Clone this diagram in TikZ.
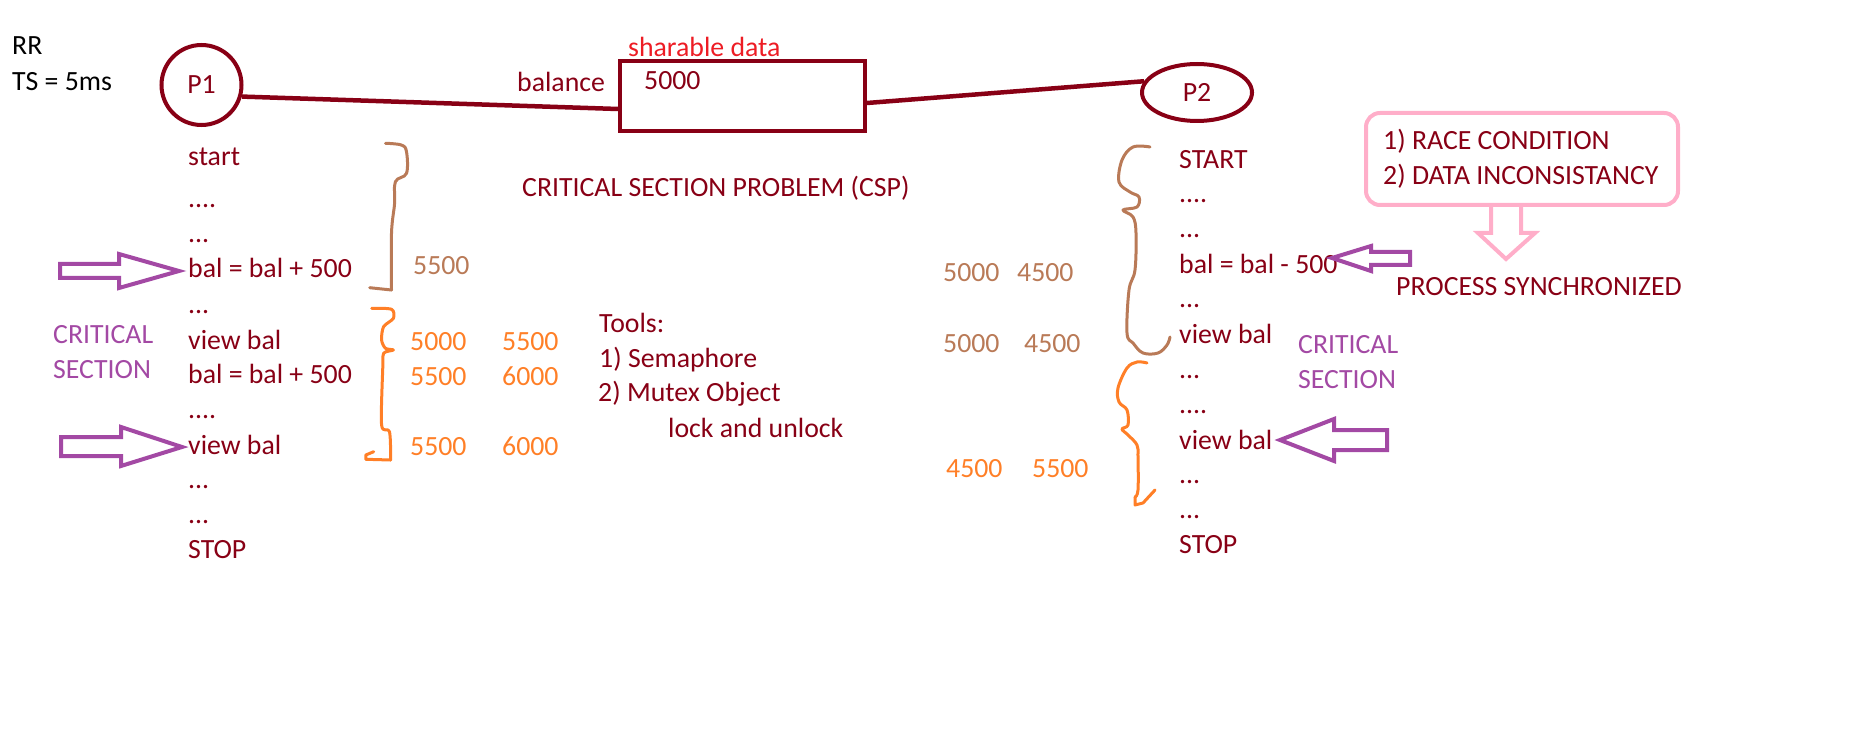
\documentclass[tikz,border=0pt]{standalone}
\usepackage{fontspec}
\setmainfont{Carlito}
\usetikzlibrary{shapes.geometric}

\definecolor{wine}{HTML}{880015}
\definecolor{clay}{HTML}{B97A57}
\definecolor{tangerine}{HTML}{FF7F27}
\definecolor{cspurple}{HTML}{A349A4}
\definecolor{blush}{HTML}{FFAEC9}
\definecolor{alarm}{HTML}{ED1C24}

\tikzset{
  codeline/.style={text=wine, anchor=base west, inner sep=0pt},
  brownnum/.style={codeline, text=clay},
  orangenum/.style={codeline, text=tangerine},
  procnode/.style={draw=wine, line width=4pt, inner sep=0pt, text=wine},
  link/.style={draw=wine, line width=4.5pt},
  fatarrow/.style={draw=cspurple, line width=4pt, line join=miter},
  brace/.style={line width=3pt, line cap=round, line join=round}
}

\begin{document}
\begin{tikzpicture}[x=1pt, y=-1pt, font=\fontsize{27.8}{33}\selectfont]
    \useasboundingbox (0,0) rectangle (1852,743);

    % scheduling
    \node[codeline, text=black] (rr) at (12,55) {RR};
    \node[codeline, text=black] (ts) at (12,91) {TS = 5ms};

    % processes and the shared variable
    \node[procnode, circle, minimum size=80pt] (P1) at (201.5,85) {P1};
    \node[procnode, ellipse, minimum width=110pt, minimum height=57pt] (P2) at (1197,92.5) {P2};
    \node[draw=wine, line width=4pt, minimum width=245pt, minimum height=70pt] (shared) at (742.5,96) {};
    \node[codeline, text=alarm] (sharelbl) at (628,57) {sharable data};
    \node[codeline] (balval) at (644,90) {5000};
    \node[codeline] (ballbl) at (517,92) {balance};

    \draw[link] (P1.-16) -- ([yshift=-13pt]shared.west);
    \draw[link] ([yshift=-7pt]shared.east) -- (P2.168);

    \node[codeline] (csp) at (522,197) {CRITICAL SECTION PROBLEM (CSP)};

    % process 1
    \node[codeline] (a1) at (188,166) {start};
    \node[codeline] (a2) at (188,208) {....};
    \node[codeline] (a3) at (188,243) {...};
    \node[codeline] (a4) at (188,278) {bal = bal + 500};
    \node[codeline] (a5) at (188,313) {...};
    \node[codeline] (a6) at (188,349) {view bal};
    \node[codeline] (a7) at (188,383) {bal = bal + 500};
    \node[codeline] (a8) at (188,418) {....};
    \node[codeline] (a9) at (188,454) {view bal};
    \node[codeline] (a10) at (188,488) {...};
    \node[codeline] (a11) at (188,523) {...};
    \node[codeline] (a12) at (188,558) {STOP};

    \node[codeline, text=cspurple] (crit1a) at (53,343) {CRITICAL};
    \node[codeline, text=cspurple] (crit1b) at (53,378) {SECTION};

    \draw[fatarrow] (60,264) -- (119,264) -- (119,254) -- (179,271) -- (119,288)
        -- (119,278) -- (60,278) -- cycle;
    \draw[fatarrow] (61,437) -- (121,437) -- (121,427) -- (182,447) -- (121,466)
        -- (121,456) -- (61,456) -- cycle;

    \draw[brace, clay] plot[smooth, tension=0.6] coordinates {(385.5,143.3) (401.3,145)
        (406.5,151.7) (406.5,173.3) (395.4,181.7) (394.6,203.3) (391.5,233.3) (391.5,290)};
    \draw[brace, clay] (391.5,290) -- (369.7,287.7);
    \draw[brace, tangerine] plot[smooth, tension=0.5] coordinates {(371.7,308.3) (391.5,309.3)
        (393.4,318.3) (383.6,326.7) (381.6,340) (385.5,348.3) (393.4,350) (383.6,353.3)
        (382.8,366.7) (381.6,425) (389.5,431.7) (390.7,460)};
    \draw[brace, tangerine] (390.7,460) -- (365.8,459.3) -- (365.8,455) -- (373.7,451.7);

    \node[brownnum] (n1) at (413,275) {5500};
    \node[orangenum] (n2) at (410,350) {5000};
    \node[orangenum] (n3) at (502,350) {5500};
    \node[orangenum] (n4) at (410,385) {5500};
    \node[orangenum] (n5) at (502,385) {6000};
    \node[orangenum] (n6) at (410,455) {5500};
    \node[orangenum] (n7) at (502,455) {6000};

    % tools
    \node[codeline] (t1) at (599,332) {Tools:};
    \node[codeline] (t2) at (599,367) {1) Semaphore};
    \node[codeline] (t3) at (598,401) {2) Mutex Object};
    \node[codeline] (t4) at (668,437) {lock and unlock};

    % process 2
    \node[codeline] (b1) at (1179,169) {START};
    \node[codeline] (b2) at (1179,203) {....};
    \node[codeline] (b3) at (1179,238) {...};
    \node[codeline] (b4) at (1179,273) {bal = bal - 500};
    \node[codeline] (b5) at (1179,308) {...};
    \node[codeline] (b6) at (1179,343) {view bal};
    \node[codeline] (b7) at (1179,378) {...};
    \node[codeline] (b8) at (1179,413) {....};
    \node[codeline] (b9) at (1179,449) {view bal};
    \node[codeline] (b10) at (1179,483) {...};
    \node[codeline] (b11) at (1179,518) {...};
    \node[codeline] (b12) at (1179,553) {STOP};

    \node[codeline, text=cspurple] (crit2a) at (1298,353) {CRITICAL};
    \node[codeline, text=cspurple] (crit2b) at (1298,388) {SECTION};

    \draw[fatarrow] (1332,258) -- (1371,246) -- (1371,252) -- (1410,252) -- (1410,265)
        -- (1371,265) -- (1371,271) -- cycle;
    \draw[fatarrow] (1280,440) -- (1334,419) -- (1334,430) -- (1387,430) -- (1387,450)
        -- (1334,450) -- (1334,461) -- cycle;

    \draw[brace, clay] plot[smooth, tension=0.6] coordinates {(1150,147) (1133,147) (1122,160)
        (1119,182) (1130,192) (1139,197) (1137,207) (1123,210) (1133,217) (1136,233)
        (1135,270) (1129,290) (1127,333) (1133,343) (1143,353) (1158,353) (1167,345) (1170,337)};
    \draw[brace, tangerine] plot[smooth, tension=0.6] coordinates {(1147,363) (1137,362)
        (1127,368) (1118,388) (1119,402) (1127,410) (1128,425) (1122,429) (1128,435)
        (1137,445) (1138,457) (1138,490) (1135,497)};
    \draw[brace, tangerine] (1135,497) -- (1135,505) -- (1143,503) -- (1155,490);

    \node[brownnum] (m1) at (943,282) {5000};
    \node[brownnum] (m2) at (1017,282) {4500};
    \node[brownnum] (m3) at (943,352) {5000};
    \node[brownnum] (m4) at (1024,352) {4500};
    \node[orangenum] (m5) at (946,477) {4500};
    \node[orangenum] (m6) at (1032,477) {5500};

    % problems and the fix
    \node[draw=blush, line width=4pt, rounded corners=14pt, minimum width=312pt,
        minimum height=92pt] (issues) at (1522,159) {};
    \node[codeline] (i1) at (1383,150) {1) RACE CONDITION};
    \node[codeline] (i2) at (1383,185) {2) DATA INCONSISTANCY};
    \draw[draw=blush, line width=4pt, line join=miter] (1491,205) -- (1491,233) -- (1478,233)
        -- (1506,259) -- (1535,233) -- (1521,233) -- (1521,205);
    \node[codeline] (sync) at (1396,295) {PROCESS SYNCHRONIZED};
\end{tikzpicture}
\end{document}
